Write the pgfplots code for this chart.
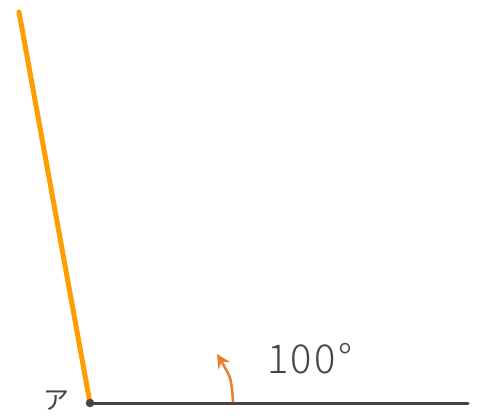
\documentclass[border=0pt]{standalone}
\usepackage{pgfplots}
\pgfplotsset{compat=1.18}
\usepackage{fontspec}
\newfontfamily\cjk{Noto Sans CJK JP}
\newfontfamily\lightfont[LetterSpace=6]{Noto Sans CJK JP Light}
\usetikzlibrary{arrows.meta}
\definecolor{linegray}{HTML}{454545}
\definecolor{rayorange}{HTML}{FF9E00}
\definecolor{arrorange}{HTML}{EE7D2E}
\begin{document}
\begin{tikzpicture}
\begin{axis}[
  xmin=0, xmax=483, ymin=0, ymax=416, y dir=reverse,
  width=483bp, height=416bp, scale only axis, hide axis, clip=false]
\path (axis cs:0,0) rectangle (axis cs:483,416);
\addplot[linegray, line width=3bp, line cap=round] coordinates {(90,403) (468,403)};
\addplot[rayorange, line width=5bp, line cap=round] coordinates {(90,403) (19,12)};
\addplot[only marks, mark=*, mark size=4bp, linegray] coordinates {(90,403)};
\addplot[arrorange, line width=2.5bp, smooth, -{Stealth[length=14bp, width=14bp, inset=5bp]}] coordinates {(233,402) (230,378) (217,354)};
\node[text=linegray, font=\lightfont\fontsize{40}{40}\selectfont, anchor=base west, inner sep=0pt] at (axis cs:267,373) {100°};
\node[text=linegray, font=\cjk\fontsize{26}{26}\selectfont, anchor=center, inner sep=0pt] at (axis cs:56,401) {ア};
\end{axis}
\end{tikzpicture}
\end{document}
